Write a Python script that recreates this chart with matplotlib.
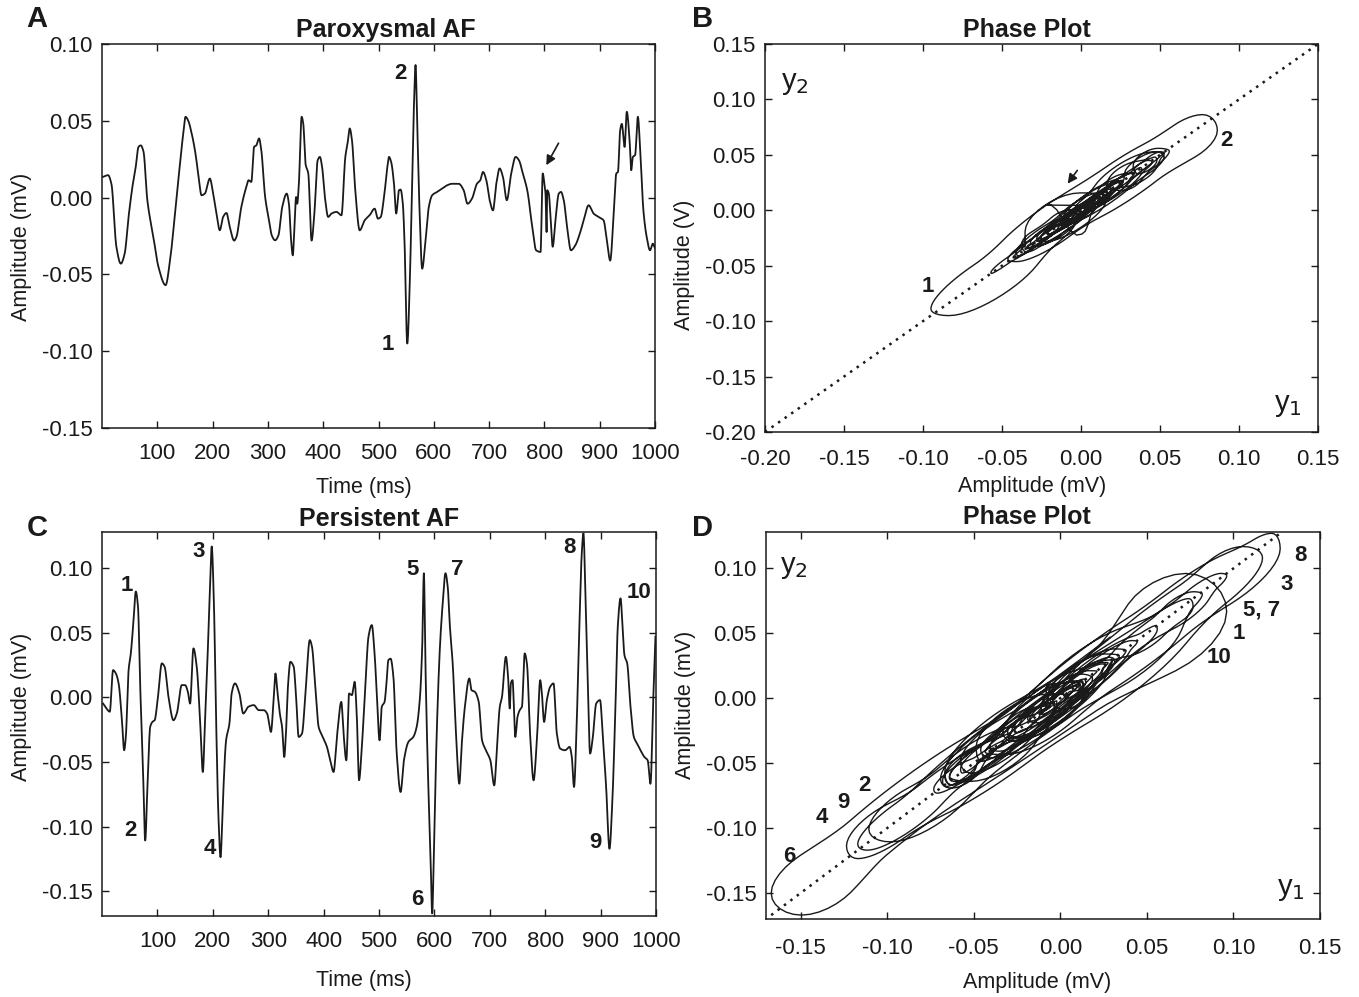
import matplotlib
matplotlib.use("Agg")
import matplotlib.pyplot as plt
from matplotlib.ticker import FormatStrFormatter
import numpy as np

plt.rcParams['font.family'] = ['Liberation Sans', 'DejaVu Sans']
plt.rcParams['axes.unicode_minus'] = False

# Paroxysmal AF signal (time in ms, amplitude in mV)
t_par = [2, 11, 17, 26, 34, 41, 48, 55, 61, 66,
         70, 75, 82, 93, 102, 115, 123, 132, 141, 147,
         151, 156, 162, 168, 174, 180, 186, 195, 201, 207,
         213, 219, 225, 231, 239, 243, 252, 261, 265, 270,
         275, 279, 284, 288, 295, 302, 307, 313, 319, 326,
         334, 338, 342, 345, 348, 351, 353, 356, 361, 364,
         368, 373, 379, 384, 390, 394, 398, 403, 409, 415,
         424, 433, 440, 444, 448, 452, 458, 466, 475, 484,
         493, 499, 504, 510, 516, 519, 523, 528, 532, 537,
         540, 544, 547, 552, 557, 561, 564, 567, 570, 574,
         579, 585, 591, 597, 606, 615, 624, 633, 645, 654,
         661, 669, 678, 684, 689, 695, 701, 707, 713, 719,
         725, 732, 740, 748, 754, 761, 769, 778, 785, 793,
         797, 800, 802, 804, 805, 808, 811, 815, 820, 826,
         830, 835, 841, 848, 856, 864, 871, 880, 889, 898,
         907, 913, 919, 925, 930, 933, 937, 940, 945, 949,
         954, 957, 960, 964, 969, 973, 979, 985, 991, 996,
         1000]
v_par = [0.0135, 0.0146, 0.009, -0.032, -0.043, -0.0365, -0.0126, 0.007, 0.020, 0.033,
         0.034, 0.030, -0.0017, -0.0257, -0.045, -0.057, -0.041, -0.0104, 0.022, 0.042,
         0.0526, 0.050, 0.042, 0.031, 0.0157, 0.0015, 0.0026, 0.0124, 0.0026, -0.0104,
         -0.0213, -0.0126, -0.010, -0.019, -0.028, -0.0257, -0.006, 0.007, 0.0113, 0.0102,
         0.033, 0.034, 0.0385, 0.031, 0.0004, -0.0148, -0.0246, -0.0278, -0.0246, -0.006,
         0.0026, -0.004, -0.028, -0.0376, -0.019, 0.0004, -0.004, 0.009, 0.0526, 0.048,
         0.022, 0.0157, -0.028, -0.0104, 0.0243, 0.0265, 0.020, 0.0004, -0.0126, -0.0104,
         -0.0093, -0.0115, 0.0265, 0.0352, 0.045, 0.0374, 0.0048, -0.0213, -0.0148, -0.0115,
         -0.0072, -0.0137, -0.0126, 0.0004, 0.020, 0.0265, 0.023, 0.009, -0.0104, 0.0048,
         0.0052, -0.004, -0.028, -0.095, -0.0496, 0.0157, 0.059, 0.0863, 0.048, -0.006,
         -0.0463, -0.028, -0.006, 0.0015, 0.0037, 0.0059, 0.008, 0.009, 0.009, 0.0048,
         -0.004, -0.0007, 0.009, 0.0113, 0.0167, 0.0113, -0.0017, -0.0083, 0.009, 0.019,
         0.0135, -0.0017, 0.0157, 0.0265, 0.0243, 0.0157, 0.0048, -0.019, -0.0343, -0.0354,
         0.0157, 0.009, 0.0026, -0.0224, 0.0048, 0.0026, -0.0126, -0.032, -0.0148, 0.0026,
         0.0037, -0.0017, -0.019, -0.0343, -0.031, -0.0235, -0.0148, -0.005, -0.0104, -0.0126,
         -0.0148, -0.028, -0.041, -0.0126, 0.0157, 0.0167, 0.0439, 0.048, 0.033, 0.0559,
         0.0374, 0.0178, 0.0265, 0.0276, 0.0526, 0.033, -0.0083, -0.0257, -0.0343, -0.030,
         -0.033]

# Persistent AF signal
t_per = [2, 8, 14, 20, 25, 30, 36, 40, 43, 48,
         52, 57, 61, 65, 69, 74, 78, 82, 87, 91,
         95, 101, 108, 113, 120, 129, 135, 144, 150, 155,
         159, 165, 171, 177, 182, 186, 191, 195, 198, 202,
         206, 210, 214, 218, 224, 230, 234, 240, 248, 255,
         264, 274, 283, 292, 298, 305, 310, 313, 317, 321,
         325, 329, 332, 336, 340, 346, 350, 355, 361, 368,
         375, 379, 385, 391, 397, 406, 412, 418, 424, 432,
         436, 441, 446, 451, 456, 460, 464, 469, 475, 481,
         487, 492, 496, 501, 505, 510, 513, 517, 521, 526,
         532, 539, 545, 553, 562, 568, 574, 578, 581, 584,
         588, 593, 596, 599, 604, 610, 615, 620, 624,
         628, 633, 639, 645, 649, 655, 663, 667, 673, 680,
         686, 693, 701, 708, 713, 718, 722, 729, 733, 736,
         738, 741, 746, 750, 754, 758, 763, 767, 773, 779,
         785, 791, 794, 798, 803, 809, 815, 821, 827, 836,
         844, 848, 852, 857, 862, 866, 869, 873, 877, 881,
         886, 892, 899, 904, 910, 916, 921, 927, 931, 936,
         939, 943, 948, 954, 960, 966, 972, 979, 985, 990,
         995, 999]
v_per = [-0.0047, -0.0085, -0.011, 0.0212, 0.0186, 0.0109, -0.0176, -0.0408, -0.0305, 0.0212,
         0.0341, 0.060, 0.082, 0.070, 0.0083, -0.0563, -0.1106, -0.0693, -0.0227, -0.0189,
         -0.0176, 0.0005, 0.0264, 0.0238, 0.0005, -0.0176, -0.0124, 0.0096, 0.0096, 0.0044,
         -0.0047, 0.038, 0.0238, -0.0176, -0.0576, -0.0176, 0.0367, 0.0858, 0.1168, 0.0729,
         -0.0176, -0.0899, -0.1235, -0.0822, -0.0331, -0.0202, 0.0031, 0.0109, 0.0031, -0.0124,
         -0.0072, -0.0059, -0.0098, -0.0098, -0.0124, -0.0266, 0.0005, 0.0186, 0.0031, -0.0124,
         -0.0227, -0.046, -0.0279, 0.0109, 0.0276, 0.0238, 0.0031, -0.0305, -0.0279, 0.0083,
         0.0444, 0.0393, 0.0083, -0.0227, -0.0292, -0.0382, -0.0486, -0.0576, -0.0305, -0.0034,
         -0.0279, -0.0486, 0.0031, 0.0018, 0.0121, -0.015, -0.064, -0.0382, 0.0057, 0.047,
         0.056, 0.0341, 0.0031, -0.0331, -0.0072, -0.0034, 0.0083, 0.029, 0.030, 0.016,
         -0.0434, -0.0731, -0.0486, -0.0344, -0.0305, -0.0227, 0.0005, 0.0393, 0.0961, 0.0212,
         -0.053, -0.121, -0.167, -0.121, -0.0305, 0.0393, 0.0729, 0.0961, 0.0858,
         0.0548, 0.0264, -0.0279, -0.0667, -0.0382, -0.0072, 0.0147, 0.0057, 0.0044, -0.0034,
         -0.0331, -0.0408, -0.0486, -0.068, -0.0382, -0.0072, 0.0005, 0.0315, 0.016, -0.0085,
         0.0109, 0.0134, -0.0305, -0.015, -0.0098, -0.0072, 0.0341, 0.0264, -0.0305, -0.0641,
         -0.0331, 0.0134, 0.0031, -0.0189, -0.002, 0.0083, 0.0109, -0.0279, -0.0395, -0.0408,
         -0.0382, -0.046, -0.0692, -0.0176, 0.060, 0.1116, 0.127, 0.0729, 0.0083, -0.0434,
         -0.0305, -0.0047, -0.002, -0.0305, -0.0692, -0.117, -0.0822, -0.0047, 0.0548, 0.0767,
         0.060, 0.0328, 0.0264, -0.0072, -0.0305, -0.0357, -0.0408, -0.046, -0.0486, -0.0667,
         -0.002, 0.047]

# numbered deflections (label, time, amplitude)
par_marks = [("2", 539, 0.081), ("1", 517, -0.0956)]
per_marks = [("1", 45, 0.087), ("2", 51, -0.103), ("3", 175, 0.113), ("4", 195, -0.117),
             ("5", 561, 0.099), ("6", 570, -0.156), ("7", 642, 0.099), ("8", 843, 0.116),
             ("9", 891, -0.112), ("10", 969, 0.081)]
phase_par_marks = [("1", -0.0968, -0.069), ("2", 0.0918, 0.0634)]
phase_per_marks = [("8", 0.1385, 0.110), ("3", 0.131, 0.0878), ("5, 7", 0.1165, 0.0678),
                   ("1", 0.1033, 0.050), ("10", 0.0917, 0.0316), ("2", -0.1134, -0.0675),
                   ("9", -0.1255, -0.0806), ("4", -0.1376, -0.0922), ("6", -0.1567, -0.1215)]

lag = 1.5  # ms, delay used for the phase plot

time_ticks = [100, 200, 300, 400, 500, 600, 700, 800, 900, 1000]
amp_ticks_a = [-0.15, -0.10, -0.05, 0.00, 0.05, 0.10]
amp_ticks_b = [-0.20, -0.15, -0.10, -0.05, 0.00, 0.05, 0.10, 0.15]
amp_ticks_d = [-0.15, -0.10, -0.05, 0.00, 0.05, 0.10, 0.15]

LC = "#1a1a1a"


def smooth_trace(t, v, tt):
    # shape preserving cubic (pchip style) through the traced points
    t = np.asarray(t, float)
    v = np.asarray(v, float)
    h = np.diff(t)
    d = np.diff(v) / h
    m = np.zeros_like(v)
    m[0], m[-1] = d[0], d[-1]
    for i in range(1, len(v) - 1):
        if d[i - 1] * d[i] > 0:
            w1 = 2 * h[i] + h[i - 1]
            w2 = h[i] + 2 * h[i - 1]
            m[i] = (w1 + w2) / (w1 / d[i - 1] + w2 / d[i])
    k = np.clip(np.searchsorted(t, tt, side='right') - 1, 0, len(t) - 2)
    s = (tt - t[k]) / h[k]
    return ((2 * s**3 - 3 * s**2 + 1) * v[k] + (s**3 - 2 * s**2 + s) * h[k] * m[k]
            + (-2 * s**3 + 3 * s**2) * v[k + 1] + (s**3 - s**2) * h[k] * m[k + 1])


W, H = 1359, 997
fig = plt.figure(figsize=(W / 100, H / 100), dpi=100)


def box(l, t, r, b):
    return [l / W, 1 - b / H, (r - l) / W, (b - t) / H]


axA = fig.add_axes(box(102, 44, 655, 428))
axB = fig.add_axes(box(765, 44, 1318, 432))
axC = fig.add_axes(box(102, 532, 656, 916))
axD = fig.add_axes(box(766, 532, 1320, 919))

for ax, xpad in ((axA, 11), (axB, 12), (axC, 11), (axD, 14)):
    ax.tick_params(direction='in', top=True, right=True, length=5, width=1,
                   labelsize=16, pad=7, colors=LC)
    ax.tick_params(axis='x', pad=xpad)
    ax.yaxis.set_major_formatter(FormatStrFormatter('%.2f'))
    for s in ax.spines.values():
        s.set_linewidth(1.1)
        s.set_color(LC)

# time series and phase plots: y1 = v(t), y2 = v(t + lag)
for axt, axp, t, v in ((axA, axB, t_par, v_par), (axC, axD, t_per, v_per)):
    tt = np.arange(t[0], t[-1] + 0.01, 0.25)
    axt.plot(tt, smooth_trace(t, v, tt), color=LC, lw=1.3)
    tp = tt[tt <= t[-1] - lag]
    axp.plot(smooth_trace(t, v, tp), smooth_trace(t, v, tp + lag), color=LC, lw=1.0)

axA.set_xlim(0, 1000)
axA.set_ylim(-0.15, 0.10)
axA.set_xticks(time_ticks)
axA.set_yticks(amp_ticks_a)

axC.set_xlim(0, 1000)
axC.set_ylim(-0.169, 0.128)
axC.set_xticks(time_ticks)
axC.set_yticks(amp_ticks_a)

for ax, marks in ((axA, par_marks), (axC, per_marks)):
    for lab, x, y in marks:
        ax.text(x, y, lab, fontsize=16, fontweight='bold', ha='center', va='center', color=LC)

axA.annotate("", xy=(801, 0.0195), xytext=(828, 0.037),
             arrowprops=dict(arrowstyle='-|>', color=LC, lw=1.2, mutation_scale=14))

axB.plot([-0.20, 0.15], [-0.20, 0.15], color=LC, lw=1.8, ls=(0, (1, 2.2)))
axB.set_xlim(-0.20, 0.15)
axB.set_ylim(-0.20, 0.15)
axB.set_xticks(amp_ticks_b)
axB.set_yticks(amp_ticks_b)
axB.xaxis.set_major_formatter(FormatStrFormatter('%.2f'))

lo, hi = min(v_per), max(v_per)
axD.plot([lo, hi], [lo, hi], color=LC, lw=1.8, ls=(0, (1, 2.2)))
axD.set_xlim(-0.17, 0.15)
axD.set_ylim(-0.17, 0.128)
axD.set_xticks(amp_ticks_d)
axD.set_yticks(amp_ticks_d[:-1])
axD.xaxis.set_major_formatter(FormatStrFormatter('%.2f'))

for ax, marks in ((axB, phase_par_marks), (axD, phase_per_marks)):
    for lab, x, y in marks:
        ax.text(x, y, lab, fontsize=16, fontweight='bold', ha='center', va='center', color=LC)

axB.annotate("", xy=(-0.0095, 0.022), xytext=(-0.0013, 0.038),
             arrowprops=dict(arrowstyle='-|>', color=LC, lw=1.2, mutation_scale=14))

axB.text(-0.181, 0.115, r"y$_2$", fontsize=21, ha='center', va='center', color=LC)
axB.text(0.131, -0.176, r"y$_1$", fontsize=21, ha='center', va='center', color=LC)
axD.text(-0.154, 0.101, r"y$_2$", fontsize=21, ha='center', va='center', color=LC)
axD.text(0.133, -0.147, r"y$_1$", fontsize=21, ha='center', va='center', color=LC)


# figure texts
def ft(x, y, s, **kw):
    fig.text(x / W, 1 - y / H, s, ha='center', va='center', color=LC, **kw)


for lab, x, y in (("A", 37, 19), ("B", 703, 19), ("C", 37, 528), ("D", 703, 528)):
    ft(x, y, lab, fontsize=21, fontweight='bold')

ft(386, 30, "Paroxysmal AF", fontsize=18, fontweight='bold')
ft(1027, 30, "Phase Plot", fontsize=18, fontweight='bold')
ft(379, 519, "Persistent AF", fontsize=18, fontweight='bold')
ft(1027, 517, "Phase Plot", fontsize=18, fontweight='bold')

ft(364, 487, "Time (ms)", fontsize=15.5)
ft(1032, 486, "Amplitude (mV)", fontsize=15.5)
ft(364, 980, "Time (ms)", fontsize=15.5)
ft(1037, 982, "Amplitude (mV)", fontsize=15.5)

ft(22, 247, "Amplitude (mV)", fontsize=15.5, rotation=90)
ft(685, 265, "Amplitude (V)", fontsize=15.5, rotation=90)
ft(22, 707, "Amplitude (mV)", fontsize=15.5, rotation=90)
ft(686, 705, "Amplitude (mV)", fontsize=15.5, rotation=90)

fig.savefig("out.png", dpi=100)
